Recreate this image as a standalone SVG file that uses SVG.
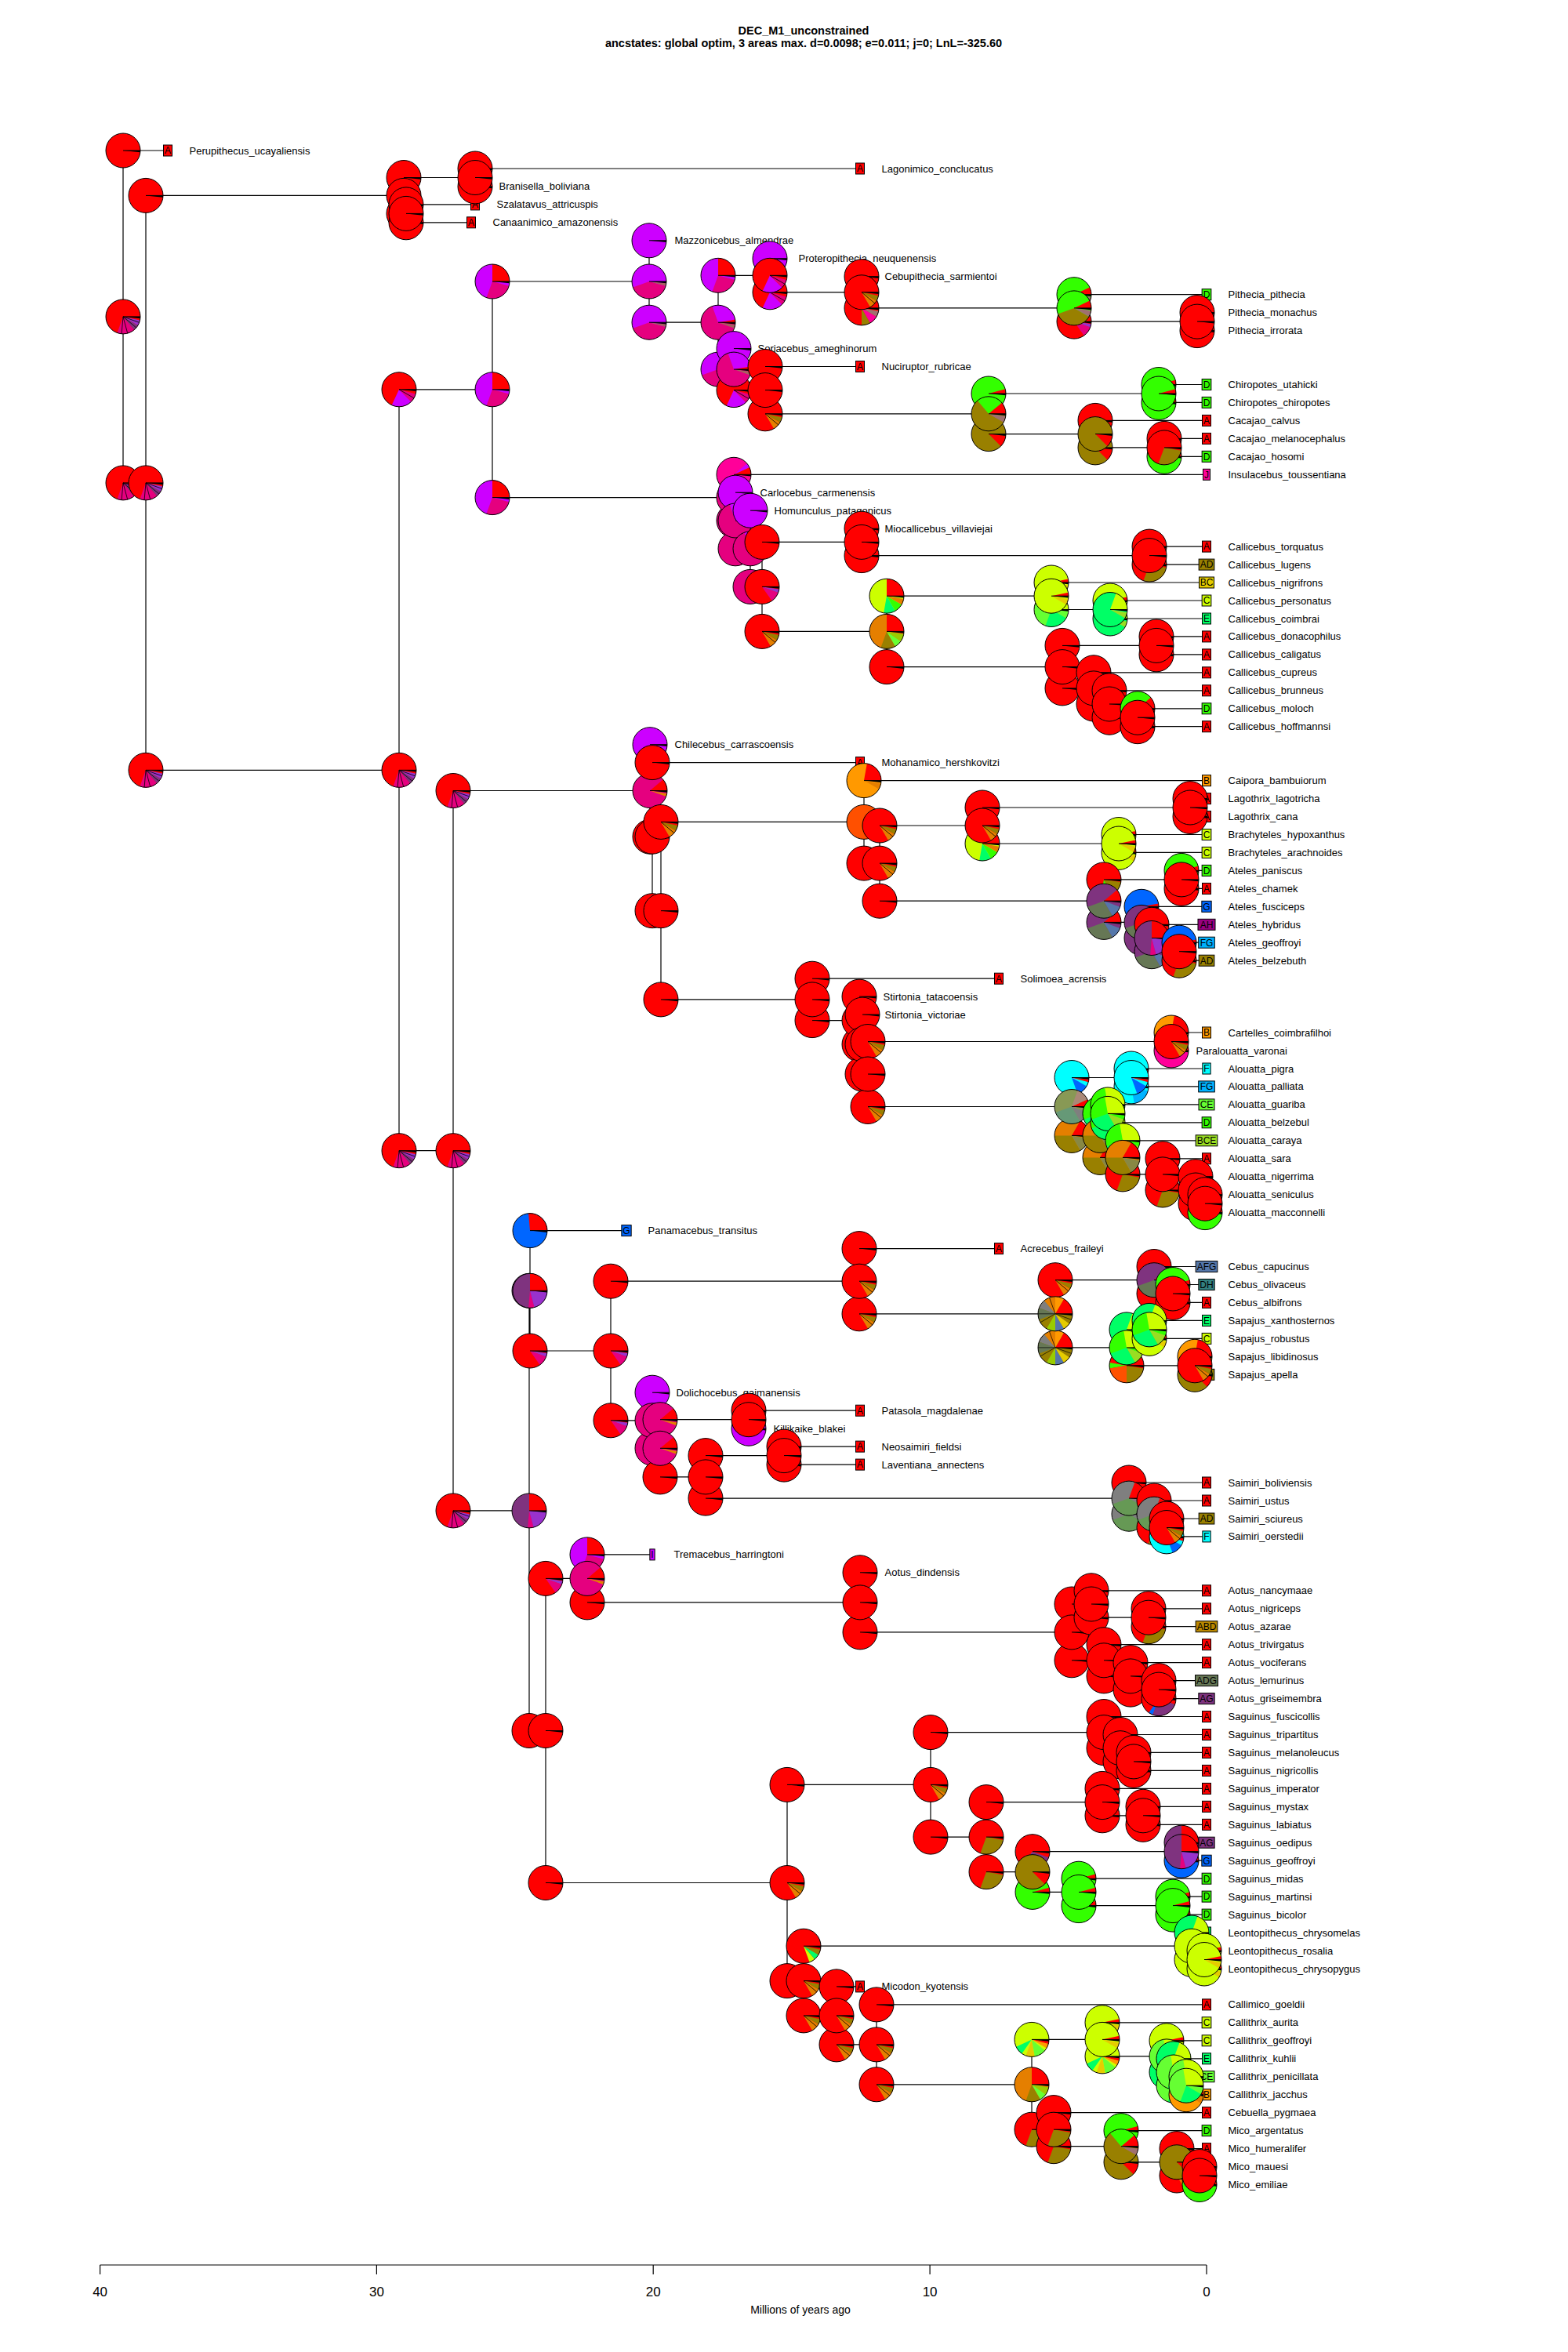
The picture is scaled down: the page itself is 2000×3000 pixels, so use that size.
<svg xmlns="http://www.w3.org/2000/svg" width="2000" height="3000" viewBox="0 0 2000 3000">
<style>
.lb{font:13px "Liberation Sans",Arial,sans-serif;fill:#000}
.bx{font:12px "Liberation Sans",Arial,sans-serif;text-anchor:middle;fill:#000}
.ti{font:bold 14.5px "Liberation Sans",Arial,sans-serif;text-anchor:middle}
.tk{font:17px "Liberation Sans",Arial,sans-serif;text-anchor:middle}
.ax{font:14px "Liberation Sans",Arial,sans-serif;text-anchor:middle}
.b{stroke:#000;stroke-width:1}
.cn{fill:none;stroke:#000;stroke-width:1.2}
.cA{fill:#f00}.cB{fill:#F90}.cC{fill:#CF0}.cD{fill:#3F0}.cE{fill:#0F6}.cF{fill:#0FF}.cG{fill:#06F}.cI{fill:#C0F}.cJ{fill:#F09}
.cAD{fill:#998000}.cBC{fill:#E5CC00}.cFG{fill:#00B2FF}.cCE{fill:#6F3}.cAH{fill:#990080}.cAG{fill:#7F337F}.cDH{fill:#33807F}
.cAFG{fill:#5577AA}.cABD{fill:#B80}.cADG{fill:#675}.cBCE{fill:#9D2}
</style>
<defs>
<g id="ov"><circle r="22" fill="none" stroke="#000"/><path d="M0 0H22" stroke="#000"/></g>
<path id="sl" d="M0 0L21.88 2.3L22 0Z"/>
<g id="r"><circle r="22" fill="#f00"/><use href="#sl"/><use href="#ov"/></g>
<g id="rm"><circle r="22" fill="#f00"/><path fill="#E5007F" d="M0 0L12.62 18.02A22 22 0 0 0 20.67 7.52Z"/><path fill="#9932CC" d="M0 0L20.67 7.52A22 22 0 0 0 21.79 3.06Z"/><use href="#sl"/><use href="#ov"/></g>
<g id="rmp"><circle r="22" fill="#f00"/><path fill="#E5007F" d="M0 0L-7.52 20.67A22 22 0 0 0 14.14 16.85Z"/><path fill="#7F337F" d="M0 0L14.14 16.85A22 22 0 0 0 19.05 11Z"/><path fill="#9932CC" d="M0 0L19.05 11A22 22 0 0 0 21.52 4.57Z"/><path d="M0 0L-1.92 21.92M0 0L5.69 21.25M0 0L16.85 14.14M0 0L20.67 7.52" stroke="#000" stroke-width=".8"/><use href="#sl"/><use href="#ov"/></g>
<g id="rv"><circle r="22" fill="#f00"/><path fill="#C0F" d="M0 0L-9.3 19.94A22 22 0 0 0 15.56 15.56Z"/><path fill="#E5007F" d="M0 0L15.56 15.56A22 22 0 0 0 21.25 5.69Z"/><path d="M0 0L19.05 11" stroke="#000" stroke-width=".8"/><use href="#sl"/><use href="#ov"/></g>
<g id="vr"><circle r="22" fill="#C0F"/><path fill="#f00" d="M0 0L22 0A22 22 0 0 0 0 -22Z"/><path fill="#E5007F" d="M0 0L-7.52 20.67A22 22 0 0 0 21.25 5.69Z"/><use href="#sl"/><use href="#ov"/></g>
<g id="vm"><circle r="22" fill="#C0F"/><path fill="#E5007F" d="M0 0L-20.67 7.52A22 22 0 0 0 21.25 5.69Z"/><path fill="#A86060" d="M0 0L21.25 5.69A22 22 0 0 0 21.88 2.3Z"/><use href="#sl"/><use href="#ov"/></g>
<g id="v"><circle r="22" fill="#C0F"/><use href="#sl"/><use href="#ov"/></g>
<g id="mv"><circle r="22" fill="#E5007F"/><path fill="#f00" d="M0 0L22 0A22 22 0 0 0 21.67 -3.82Z"/><path fill="#C0F" d="M0 0L21.67 -3.82A22 22 0 0 0 -7.52 -20.67Z"/><path fill="#A86060" d="M0 0L20.67 7.52A22 22 0 0 0 21.79 3.06Z"/><use href="#sl"/><use href="#ov"/></g>
<g id="m"><circle r="22" fill="#E5007F"/><path fill="#f00" d="M0 0L22 0A22 22 0 0 0 16.85 -14.14Z"/><path fill="#E57F00" d="M0 0L20.67 7.52A22 22 0 0 0 21.67 3.82Z"/><use href="#sl"/><use href="#ov"/></g>
<g id="pk"><circle r="22" fill="#F09"/><path fill="#f00" d="M0 0L22 0A22 22 0 0 0 19.94 -9.3Z"/><path fill="#C0F" d="M0 0L19.94 -9.3A22 22 0 0 0 16.85 -14.14Z"/><use href="#sl"/><use href="#ov"/></g>
<g id="rx"><circle r="22" fill="#f00"/><path fill="#E57F00" d="M0 0L11 19.05A22 22 0 0 0 19.05 11Z"/><path fill="#998000" d="M0 0L19.05 11A22 22 0 0 0 21.52 4.57Z"/><path d="M0 0L16.85 14.14" stroke="#000" stroke-width=".8"/><use href="#sl"/><use href="#ov"/></g>
<g id="rol"><circle r="22" fill="#f00"/><path fill="#998000" d="M0 0L-7.52 20.67A22 22 0 0 0 21.67 3.82Z"/><use href="#sl"/><use href="#ov"/></g>
<g id="rmo"><circle r="22" fill="#f00"/><path fill="#998000" d="M0 0L0 22A22 22 0 0 0 11 19.05Z"/><path fill="#F09" d="M0 0L11 19.05A22 22 0 0 0 19.05 11Z"/><path fill="#A07070" d="M0 0L19.05 11A22 22 0 0 0 21.67 3.82Z"/><use href="#sl"/><use href="#ov"/></g>
<g id="rab"><circle r="22" fill="#f00"/><path fill="#3F0" d="M0 0L-21.67 -3.82A22 22 0 0 0 -21.67 3.82Z"/><path fill="#FF5000" d="M0 0L-21.67 3.82A22 22 0 0 0 0 22Z"/><path fill="#998000" d="M0 0L0 22A22 22 0 0 0 21.67 3.82Z"/><use href="#sl"/><use href="#ov"/></g>
<g id="rgo"><circle r="22" fill="#f00"/><path fill="#3F0" d="M0 0L-3.82 21.67A22 22 0 0 0 11 19.05Z"/><path fill="#998000" d="M0 0L11 19.05A22 22 0 0 0 21.79 3.06Z"/><use href="#sl"/><use href="#ov"/></g>
<g id="g"><circle r="22" fill="#3F0"/><path fill="#f00" d="M0 0L22 0A22 22 0 0 0 21.25 -5.69Z"/><use href="#sl"/><use href="#ov"/></g>
<g id="go"><circle r="22" fill="#3F0"/><path fill="#f00" d="M0 0L22 0A22 22 0 0 0 19.94 -9.3Z"/><path fill="#998000" d="M0 0L-20.67 7.52A22 22 0 0 0 19.05 11Z"/><path fill="#A07070" d="M0 0L19.05 11A22 22 0 0 0 21.79 3.06Z"/><use href="#sl"/><use href="#ov"/></g>
<g id="og"><circle r="22" fill="#998000"/><path fill="#f00" d="M0 0L22 0A22 22 0 0 0 16.85 -14.14Z"/><path fill="#3F0" d="M0 0L16.85 -14.14A22 22 0 0 0 -14.14 -16.85Z"/><path fill="#A07070" d="M0 0L19.05 11A22 22 0 0 0 21.79 3.06Z"/><use href="#sl"/><use href="#ov"/></g>
<g id="ol"><circle r="22" fill="#998000"/><path fill="#f00" d="M0 0L15.56 15.56A22 22 0 0 0 21.92 1.92Z"/><use href="#sl"/><use href="#ov"/></g>
<g id="y"><circle r="22" fill="#CF0"/><path fill="#f00" d="M0 0L22 0A22 22 0 0 0 21.52 -4.57Z"/><path fill="#E5CC00" d="M0 0L19.05 11A22 22 0 0 0 21.67 3.82Z"/><use href="#sl"/><use href="#ov"/></g>
<g id="yx"><circle r="22" fill="#CF0"/><path fill="#0F6" d="M0 0L-19.94 9.3A22 22 0 0 0 -12.62 18.02Z"/><path fill="#E5CC00" d="M0 0L-7.52 20.67A22 22 0 0 0 3.82 21.67Z"/><path fill="#6F3" d="M0 0L3.82 21.67A22 22 0 0 0 16.85 14.14Z"/><path fill="#F90" d="M0 0L19.05 11A22 22 0 0 0 21.25 5.69Z"/><path fill="#f00" d="M0 0L21.25 5.69A22 22 0 0 0 21.92 1.92Z"/><use href="#sl"/><use href="#ov"/></g>
<g id="yr"><circle r="22" fill="#CF0"/><path fill="#f00" d="M0 0L22 0A22 22 0 0 0 0 -22Z"/><path fill="#0F6" d="M0 0L-3.82 21.67A22 22 0 0 0 11 19.05Z"/><path fill="#3F0" d="M0 0L11 19.05A22 22 0 0 0 19.05 11Z"/><path fill="#E57F00" d="M0 0L19.05 11A22 22 0 0 0 21.67 3.82Z"/><use href="#sl"/><use href="#ov"/></g>
<g id="oc"><circle r="22" fill="#E57F00"/><path fill="#f00" d="M0 0L22 0A22 22 0 0 0 0 -22Z"/><path fill="#998000" d="M0 0L-7.52 20.67A22 22 0 0 0 11 19.05Z"/><path fill="#6F3" d="M0 0L11 19.05A22 22 0 0 0 18.02 12.62Z"/><path fill="#9C0" d="M0 0L18.02 12.62A22 22 0 0 0 21.67 3.82Z"/><use href="#sl"/><use href="#ov"/></g>
<g id="cy"><circle r="22" fill="#0FF"/><path fill="#06F" d="M0 0L7.52 20.67A22 22 0 0 0 19.05 11Z"/><path fill="#f00" d="M0 0L21.25 5.69A22 22 0 0 0 21.92 1.92Z"/><use href="#sl"/><use href="#ov"/></g>
<g id="cy2"><circle r="22" fill="#0FF"/><path fill="#00B2FF" d="M0 0L3.82 21.67A22 22 0 0 0 21.25 5.69Z"/><use href="#sl"/><use href="#ov"/></g>
<g id="bl"><circle r="22" fill="#06F"/><path fill="#f00" d="M0 0L22 0A22 22 0 0 0 21.67 -3.82Z"/><use href="#sl"/><use href="#ov"/></g>
<g id="rb"><circle r="22" fill="#06F"/><path fill="#f00" d="M0 0L22 0A22 22 0 0 0 -1.92 -21.92Z"/><use href="#sl"/><use href="#ov"/></g>
<g id="or"><circle r="22" fill="#F90"/><path fill="#f00" d="M0 0L22 0A22 22 0 0 0 3.82 -21.67Z"/><path fill="#E57F00" d="M0 0L19.05 11A22 22 0 0 0 21.67 3.82Z"/><use href="#sl"/><use href="#ov"/></g>
<g id="ab"><circle r="22" fill="#FF5000"/><path fill="#f00" d="M0 0L22 0A22 22 0 0 0 21.25 -5.69Z"/><path fill="#E57F00" d="M0 0L11 19.05A22 22 0 0 0 20.67 7.52Z"/><use href="#sl"/><use href="#ov"/></g>
<g id="pu"><circle r="22" fill="#7F337F"/><path fill="#f00" d="M0 0L22 0A22 22 0 0 0 0 -22Z"/><path fill="#E5007F" d="M0 0L-1.92 21.92A22 22 0 0 0 5.69 21.25Z"/><path fill="#9932CC" d="M0 0L5.69 21.25A22 22 0 0 0 21.92 1.92Z"/><use href="#sl"/><use href="#ov"/></g>
<g id="pg"><circle r="22" fill="#7F337F"/><path fill="#f00" d="M0 0L22 0A22 22 0 0 0 16.85 -14.14Z"/><path fill="#675" d="M0 0L-20.67 7.52A22 22 0 0 0 11 19.05Z"/><path fill="#5577AA" d="M0 0L11 19.05A22 22 0 0 0 20.67 7.52Z"/><use href="#sl"/><use href="#ov"/></g>
<g id="se"><circle r="22" fill="#0F6"/><path fill="#CF0" d="M0 0L22 0A22 22 0 0 0 7.52 -20.67Z"/><path fill="#9D2" d="M0 0L19.05 11A22 22 0 0 0 21.67 3.82Z"/><use href="#sl"/><use href="#ov"/></g>
<g id="ce"><circle r="22" fill="#6F3"/><path fill="#CF0" d="M0 0L22 0A22 22 0 0 0 -3.82 -21.67Z"/><path fill="#0F6" d="M0 0L-7.52 20.67A22 22 0 0 0 19.05 11Z"/><use href="#sl"/><use href="#ov"/></g>
<g id="mg"><circle r="22" fill="#889955"/><path fill="#f00" d="M0 0L22 0A22 22 0 0 0 19.94 -9.3Z"/><path fill="#A87" d="M0 0L19.94 -9.3A22 22 0 0 0 7.52 -20.67Z"/><path fill="#697" d="M0 0L-20.67 7.52A22 22 0 0 0 11 19.05Z"/><path fill="#7F7F7F" d="M0 0L11 19.05A22 22 0 0 0 20.67 7.52Z"/><use href="#sl"/><use href="#ov"/></g>
<g id="ao"><circle r="22" fill="#E57F00"/><path fill="#f00" d="M0 0L22 0A22 22 0 0 0 11 -19.05Z"/><path fill="#998000" d="M0 0L-22 0A22 22 0 0 0 11 19.05Z"/><path fill="#884" d="M0 0L11 19.05A22 22 0 0 0 21.67 3.82Z"/><use href="#sl"/><use href="#ov"/></g>
<g id="gy"><circle r="22" fill="#3F0"/><path fill="#CF0" d="M0 0L22 0A22 22 0 0 0 -3.82 -21.67Z"/><path fill="#0F6" d="M0 0L-20.67 7.52A22 22 0 0 0 11 19.05Z"/><path fill="#9D2" d="M0 0L11 19.05A22 22 0 0 0 20.67 7.52Z"/><use href="#sl"/><use href="#ov"/></g>
<g id="mx"><circle r="22" fill="#998000"/><path fill="#f00" d="M0 0L22 0A22 22 0 0 0 11 -19.05Z"/><path fill="#F90" d="M0 0L11 -19.05A22 22 0 0 0 0 -22Z"/><path fill="#E57F00" d="M0 0L0 -22A22 22 0 0 0 -14.14 -16.85Z"/><path fill="#7F7F7F" d="M0 0L-14.14 -16.85A22 22 0 0 0 -20.67 -7.52Z"/><path fill="#675" d="M0 0L-20.67 -7.52A22 22 0 0 0 -20.67 7.52Z"/><path fill="#9C0" d="M0 0L-11 19.05A22 22 0 0 0 0 22Z"/><path fill="#5577AA" d="M0 0L0 22A22 22 0 0 0 11 19.05Z"/><path fill="#E5CC00" d="M0 0L11 19.05A22 22 0 0 0 18.02 12.62Z"/><path d="M0 0L-22 0M0 0L-19.05 11M0 0L20.67 7.52M0 0L-7.52 -20.67" stroke="#000" stroke-width=".7"/><use href="#sl"/><use href="#ov"/></g>
<g id="gm"><circle r="22" fill="#7F7F7F"/><path fill="#f00" d="M0 0L22 0A22 22 0 0 0 7.52 -20.67Z"/><path fill="#695" d="M0 0L-20.67 7.52A22 22 0 0 0 19.05 11Z"/><use href="#sl"/><use href="#ov"/></g>
<g id="rg"><circle r="22" fill="#f00"/><path fill="#3F0" d="M0 0L16.85 -14.14A22 22 0 0 0 -20.67 7.52Z"/><path fill="#998000" d="M0 0L-20.67 7.52A22 22 0 0 0 11 19.05Z"/><use href="#sl"/><use href="#ov"/></g>
<g id="rpu"><circle r="22" fill="#f00"/><path fill="#06F" d="M0 0L-12.62 18.02A22 22 0 0 0 -7.52 20.67Z"/><path fill="#7F337F" d="M0 0L-7.52 20.67A22 22 0 0 0 20.67 7.52Z"/><use href="#sl"/><use href="#ov"/></g>
<g id="rgc"><circle r="22" fill="#f00"/><path fill="#CF0" d="M0 0L7.52 20.67A22 22 0 0 0 14.14 16.85Z"/><path fill="#0F6" d="M0 0L14.14 16.85A22 22 0 0 0 19.05 11Z"/><path fill="#998000" d="M0 0L19.05 11A22 22 0 0 0 21.52 4.57Z"/><use href="#sl"/><use href="#ov"/></g>
</defs>
<rect width="2000" height="3000" fill="#fff"/>
<g id="title">
<text class="ti" x="1025" y="43.5">DEC_M1_unconstrained</text>
<text class="ti" x="1025" y="59.5">ancstates: global optim, 3 areas max. d=0.0098; e=0.011; j=0; LnL=-325.60</text>
</g>
<g id="connectors" class="cn">
<path d="M157 192V615.9M157 192H214M157 615.9H186M186 249.4V982.3M186 249.4H515M186 982.3H509M515 226.5V272.4M515 226.5H606M515 272.4H518M606 215V237.9M606 215H1097M606 237.9H608M518 260.9V283.8M518 260.9H606M518 283.8H601M509 496.8V1467.7M509 496.8H628M509 1467.7H578M628 359V634.6M628 359H828M628 634.6H936M828 306.8V411.2M828 306.8H833M828 411.2H916M916 351.3V471.1M916 351.3H982M916 471.1H936M982 329.8V372.8M982 329.8H991M982 372.8H1099M1099 352.7V392.9M1099 352.7H1101M1099 392.9H1370M1370 375.7V410.1M1370 375.7H1539M1370 410.1H1527M1527 398.6V421.6M1527 398.6H1539M1527 421.6H1539M936 444.6V497.6M936 444.6H939M936 497.6H976M976 467.5V527.8M976 467.5H1097M976 527.8H1261M1261 502V553.6M1261 502H1478M1261 553.6H1397M1478 490.5V513.4M1478 490.5H1539M1478 513.4H1539M1397 536.4V570.9M1397 536.4H1539M1397 570.9H1485M1485 559.4V582.3M1485 559.4H1539M1485 582.3H1539M936 605.3V664M936 605.3H1539M936 664H938M938 628.2V699.8M938 628.2H942M938 699.8H957M957 651.2V748.4M957 651.2H960M957 748.4H972M972 691.4V805.4M972 691.4H1099M972 805.4H1131M1099 674.2V708.6M1099 674.2H1101M1099 708.6H1466M1466 697.1V720.1M1466 697.1H1539M1466 720.1H1539M1131 760.2V850.6M1131 760.2H1341M1131 850.6H1355M1341 743V777.5M1341 743H1539M1341 777.5H1416M1416 766V789M1416 766H1539M1416 789H1539M1355 823.4V877.9M1355 823.4H1475M1355 877.9H1395M1475 811.9V834.9M1475 811.9H1539M1475 834.9H1539M1395 857.8V898M1395 857.8H1539M1395 898H1415M1415 880.8V915.2M1415 880.8H1539M1415 915.2H1451M1451 903.8V926.7M1451 903.8H1539M1451 926.7H1539"/>
<path d="M578 1008.5V1926.9M578 1008.5H829M578 1926.9H675M829 949.7V1067.2M829 949.7H833M829 1067.2H832M832 972.6V1161.7M832 972.6H1097M832 1161.7H843M843 1048.4V1274.9M843 1048.4H1102M843 1274.9H1036M1102 995.6V1101.1M1102 995.6H1539M1102 1101.1H1122M1122 1053V1149.2M1122 1053H1253M1122 1149.2H1408M1253 1030V1076M1253 1030H1518M1253 1076H1427M1518 1018.6V1041.5M1518 1018.6H1539M1518 1041.5H1539M1427 1064.5V1087.4M1427 1064.5H1539M1427 1087.4H1539M1408 1121.9V1176.4M1408 1121.9H1507M1408 1176.4H1456M1507 1110.4V1133.4M1507 1110.4H1539M1507 1133.4H1539M1456 1156.3V1196.5M1456 1156.3H1539M1456 1196.5H1469M1469 1179.3V1213.7M1469 1179.3H1539M1469 1213.7H1504M1504 1202.2V1225.2M1504 1202.2H1539M1504 1225.2H1539M1036 1248.2V1301.6M1036 1248.2H1274M1036 1301.6H1096M1096 1271.1V1332.1M1096 1271.1H1099M1096 1332.1H1100M1100 1294.1V1370M1100 1294.1H1101M1100 1370H1107M1107 1328.5V1411.5M1107 1328.5H1494M1107 1411.5H1367M1494 1317V1340M1494 1317H1539M1494 1340H1498M1367 1374.5V1448.4M1367 1374.5H1443M1367 1448.4H1403M1443 1363V1385.9M1443 1363H1539M1443 1385.9H1539M1403 1420.4V1476.4M1403 1420.4H1413M1403 1476.4H1432M1413 1408.9V1431.8M1413 1408.9H1539M1413 1431.8H1539M1432 1454.8V1497.9M1432 1454.8H1539M1432 1497.9H1483M1483 1477.8V1518M1483 1477.8H1539M1483 1518H1525M1525 1500.7V1535.2M1525 1500.7H1539M1525 1535.2H1537M1537 1523.7V1546.6M1537 1523.7H1539M1537 1546.6H1539"/>
<path d="M675 1646.3V2207.5M675 1646.3H676M675 2207.5H696M676 1569.6V1723M676 1569.6H799M676 1723H779M779 1634.2V1811.8M779 1634.2H1096M779 1811.8H832M1096 1592.6V1675.8M1096 1592.6H1274M1096 1675.8H1346M1346 1632.7V1718.9M1346 1632.7H1472M1346 1718.9H1437M1472 1615.5V1650M1472 1615.5H1539M1472 1650H1496M1496 1638.5V1661.4M1496 1638.5H1539M1496 1661.4H1539M1437 1695.9V1741.8M1437 1695.9H1466M1437 1741.8H1524M1466 1684.4V1707.4M1466 1684.4H1539M1466 1707.4H1539M1524 1730.3V1753.3M1524 1730.3H1539M1524 1753.3H1539M832 1776.2V1847.3M832 1776.2H835M832 1847.3H842M842 1810.7V1883.9M842 1810.7H955M842 1883.9H900M955 1799.2V1822.2M955 1799.2H1097M955 1822.2H958M900 1856.6V1911.1M900 1856.6H1000M900 1911.1H1440M1000 1845.1V1868.1M1000 1845.1H1097M1000 1868.1H1097M1440 1891V1931.2M1440 1891H1539M1440 1931.2H1472M1472 1914V1948.5M1472 1914H1539M1472 1948.5H1488M1488 1937V1959.9M1488 1937H1539M1488 1959.9H1539"/>
<path d="M696 2013.4V2401.5M696 2013.4H749M696 2401.5H1004M749 1982.9V2043.9M749 1982.9H832M749 2043.9H1097M1097 2005.8V2081.9M1097 2005.8H1101M1097 2081.9H1367M1367 2046V2117.8M1367 2046H1392M1367 2117.8H1408M1392 2028.8V2063.2M1392 2028.8H1539M1392 2063.2H1465M1465 2051.8V2074.7M1465 2051.8H1539M1465 2074.7H1539M1408 2097.7V2137.9M1408 2097.7H1539M1408 2137.9H1442M1442 2120.6V2155.1M1442 2120.6H1539M1442 2155.1H1478M1478 2143.6V2166.6M1478 2143.6H1539M1478 2166.6H1539M1004 2276.4V2526.6M1004 2276.4H1187M1004 2526.6H1025M1187 2209.6V2343.1M1187 2209.6H1408M1187 2343.1H1258M1408 2189.5V2229.7M1408 2189.5H1539M1408 2229.7H1429M1429 2212.5V2246.9M1429 2212.5H1539M1429 2246.9H1446M1446 2235.4V2258.4M1446 2235.4H1539M1446 2258.4H1539M1258 2298.6V2387.6M1258 2298.6H1406M1258 2387.6H1317M1406 2281.4V2315.8M1406 2281.4H1539M1406 2315.8H1458M1458 2304.3V2327.3M1458 2304.3H1539M1458 2327.3H1539M1317 2361.7V2413.4M1317 2361.7H1507M1317 2413.4H1376M1507 2350.2V2373.2M1507 2350.2H1539M1507 2373.2H1539M1376 2396.2V2430.6M1376 2396.2H1539M1376 2430.6H1496M1496 2419.1V2442.1M1496 2419.1H1539M1496 2442.1H1539M1025 2482.2V2570.9M1025 2482.2H1520M1025 2570.9H1067M1520 2465V2499.5M1520 2465H1539M1520 2499.5H1536M1536 2488V2511M1536 2488H1539M1536 2511H1539M1067 2533.9V2607.9M1067 2533.9H1097M1067 2607.9H1118M1118 2556.9V2658.8M1118 2556.9H1539M1118 2658.8H1316M1316 2601.4V2716.2M1316 2601.4H1406M1316 2716.2H1344M1406 2579.8V2622.9M1406 2579.8H1539M1406 2622.9H1488M1488 2602.8V2643M1488 2602.8H1539M1488 2643H1497M1497 2625.8V2660.2M1497 2625.8H1539M1497 2660.2H1513M1513 2648.7V2671.7M1513 2648.7H1539M1513 2671.7H1539M1344 2694.6V2737.7M1344 2694.6H1539M1344 2737.7H1430M1430 2717.6V2757.8M1430 2717.6H1539M1430 2757.8H1501M1501 2740.6V2775M1501 2740.6H1539M1501 2775H1530M1530 2763.5V2786.5M1530 2763.5H1539M1530 2786.5H1539"/>
</g>
<g id="tips">
<g id="t1" transform="translate(214,192)"><rect class="b cA" x="-5.5" y="-7" width="11" height="14"/><text class="bx" y="4.3">A</text><text class="lb" x="27.5" y="4.5">Perupithecus_ucayaliensis</text></g>
<g id="t2" transform="translate(1097,215)"><rect class="b cA" x="-5.5" y="-7" width="11" height="14"/><text class="bx" y="4.3">A</text><text class="lb" x="27.5" y="4.5">Lagonimico_conclucatus</text></g>
<g id="t3" transform="translate(609,237.9)"><rect class="b cA" x="-5.5" y="-7" width="11" height="14"/><text class="bx" y="4.3">A</text><text class="lb" x="27.5" y="4.5">Branisella_boliviana</text></g>
<g id="t4" transform="translate(606,260.9)"><rect class="b cA" x="-5.5" y="-7" width="11" height="14"/><text class="bx" y="4.3">A</text><text class="lb" x="27.5" y="4.5">Szalatavus_attricuspis</text></g>
<g id="t5" transform="translate(601,283.8)"><rect class="b cA" x="-5.5" y="-7" width="11" height="14"/><text class="bx" y="4.3">A</text><text class="lb" x="27.5" y="4.5">Canaanimico_amazonensis</text></g>
<g id="t6" transform="translate(833,306.8)"><rect class="b cI" x="-3.15" y="-7" width="6.3" height="14"/><text class="bx" y="4.3">I</text><text class="lb" x="27.5" y="4.5">Mazzonicebus_almendrae</text></g>
<g id="t7" transform="translate(991,329.8)"><rect class="b cI" x="-3.15" y="-7" width="6.3" height="14"/><text class="bx" y="4.3">I</text><text class="lb" x="27.5" y="4.5">Proteropithecia_neuquenensis</text></g>
<g id="t8" transform="translate(1101,352.7)"><rect class="b cA" x="-5.5" y="-7" width="11" height="14"/><text class="bx" y="4.3">A</text><text class="lb" x="27.5" y="4.5">Cebupithecia_sarmientoi</text></g>
<g id="t9" transform="translate(1539,375.7)"><rect class="b cD" x="-5.85" y="-7" width="11.7" height="14"/><text class="bx" y="4.3">D</text><text class="lb" x="27.5" y="4.5">Pithecia_pithecia</text></g>
<g id="t10" transform="translate(1539,398.6)"><rect class="b cA" x="-5.5" y="-7" width="11" height="14"/><text class="bx" y="4.3">A</text><text class="lb" x="27.5" y="4.5">Pithecia_monachus</text></g>
<g id="t11" transform="translate(1539,421.6)"><rect class="b cA" x="-5.5" y="-7" width="11" height="14"/><text class="bx" y="4.3">A</text><text class="lb" x="27.5" y="4.5">Pithecia_irrorata</text></g>
<g id="t12" transform="translate(939,444.6)"><rect class="b cI" x="-3.15" y="-7" width="6.3" height="14"/><text class="bx" y="4.3">I</text><text class="lb" x="27.5" y="4.5">Soriacebus_ameghinorum</text></g>
<g id="t13" transform="translate(1097,467.5)"><rect class="b cA" x="-5.5" y="-7" width="11" height="14"/><text class="bx" y="4.3">A</text><text class="lb" x="27.5" y="4.5">Nuciruptor_rubricae</text></g>
<g id="t14" transform="translate(1539,490.5)"><rect class="b cD" x="-5.85" y="-7" width="11.7" height="14"/><text class="bx" y="4.3">D</text><text class="lb" x="27.5" y="4.5">Chiropotes_utahicki</text></g>
<g id="t15" transform="translate(1539,513.4)"><rect class="b cD" x="-5.85" y="-7" width="11.7" height="14"/><text class="bx" y="4.3">D</text><text class="lb" x="27.5" y="4.5">Chiropotes_chiropotes</text></g>
<g id="t16" transform="translate(1539,536.4)"><rect class="b cA" x="-5.5" y="-7" width="11" height="14"/><text class="bx" y="4.3">A</text><text class="lb" x="27.5" y="4.5">Cacajao_calvus</text></g>
<g id="t17" transform="translate(1539,559.4)"><rect class="b cA" x="-5.5" y="-7" width="11" height="14"/><text class="bx" y="4.3">A</text><text class="lb" x="27.5" y="4.5">Cacajao_melanocephalus</text></g>
<g id="t18" transform="translate(1539,582.3)"><rect class="b cD" x="-5.85" y="-7" width="11.7" height="14"/><text class="bx" y="4.3">D</text><text class="lb" x="27.5" y="4.5">Cacajao_hosomi</text></g>
<g id="t19" transform="translate(1539,605.3)"><rect class="b cJ" x="-4.5" y="-7" width="9" height="14"/><text class="bx" y="4.3">J</text><text class="lb" x="27.5" y="4.5">Insulacebus_toussentiana</text></g>
<g id="t20" transform="translate(942,628.2)"><rect class="b cI" x="-3.15" y="-7" width="6.3" height="14"/><text class="bx" y="4.3">I</text><text class="lb" x="27.5" y="4.5">Carlocebus_carmenensis</text></g>
<g id="t21" transform="translate(960,651.2)"><rect class="b cI" x="-3.15" y="-7" width="6.3" height="14"/><text class="bx" y="4.3">I</text><text class="lb" x="27.5" y="4.5">Homunculus_patagonicus</text></g>
<g id="t22" transform="translate(1101,674.2)"><rect class="b cA" x="-5.5" y="-7" width="11" height="14"/><text class="bx" y="4.3">A</text><text class="lb" x="27.5" y="4.5">Miocallicebus_villaviejai</text></g>
<g id="t23" transform="translate(1539,697.1)"><rect class="b cA" x="-5.5" y="-7" width="11" height="14"/><text class="bx" y="4.3">A</text><text class="lb" x="27.5" y="4.5">Callicebus_torquatus</text></g>
<g id="t24" transform="translate(1539,720.1)"><rect class="b cAD" x="-9.85" y="-7" width="19.7" height="14"/><text class="bx" y="4.3">AD</text><text class="lb" x="27.5" y="4.5">Callicebus_lugens</text></g>
<g id="t25" transform="translate(1539,743)"><rect class="b cBC" x="-9.5" y="-7" width="19" height="14"/><text class="bx" y="4.3">BC</text><text class="lb" x="27.5" y="4.5">Callicebus_nigrifrons</text></g>
<g id="t26" transform="translate(1539,766)"><rect class="b cC" x="-5.85" y="-7" width="11.7" height="14"/><text class="bx" y="4.3">C</text><text class="lb" x="27.5" y="4.5">Callicebus_personatus</text></g>
<g id="t27" transform="translate(1539,789)"><rect class="b cE" x="-5.5" y="-7" width="11" height="14"/><text class="bx" y="4.3">E</text><text class="lb" x="27.5" y="4.5">Callicebus_coimbrai</text></g>
<g id="t28" transform="translate(1539,811.9)"><rect class="b cA" x="-5.5" y="-7" width="11" height="14"/><text class="bx" y="4.3">A</text><text class="lb" x="27.5" y="4.5">Callicebus_donacophilus</text></g>
<g id="t29" transform="translate(1539,834.9)"><rect class="b cA" x="-5.5" y="-7" width="11" height="14"/><text class="bx" y="4.3">A</text><text class="lb" x="27.5" y="4.5">Callicebus_caligatus</text></g>
<g id="t30" transform="translate(1539,857.8)"><rect class="b cA" x="-5.5" y="-7" width="11" height="14"/><text class="bx" y="4.3">A</text><text class="lb" x="27.5" y="4.5">Callicebus_cupreus</text></g>
<g id="t31" transform="translate(1539,880.8)"><rect class="b cA" x="-5.5" y="-7" width="11" height="14"/><text class="bx" y="4.3">A</text><text class="lb" x="27.5" y="4.5">Callicebus_brunneus</text></g>
<g id="t32" transform="translate(1539,903.8)"><rect class="b cD" x="-5.85" y="-7" width="11.7" height="14"/><text class="bx" y="4.3">D</text><text class="lb" x="27.5" y="4.5">Callicebus_moloch</text></g>
<g id="t33" transform="translate(1539,926.7)"><rect class="b cA" x="-5.5" y="-7" width="11" height="14"/><text class="bx" y="4.3">A</text><text class="lb" x="27.5" y="4.5">Callicebus_hoffmannsi</text></g>
<g id="t34" transform="translate(833,949.7)"><rect class="b cI" x="-3.15" y="-7" width="6.3" height="14"/><text class="bx" y="4.3">I</text><text class="lb" x="27.5" y="4.5">Chilecebus_carrascoensis</text></g>
<g id="t35" transform="translate(1097,972.6)"><rect class="b cA" x="-5.5" y="-7" width="11" height="14"/><text class="bx" y="4.3">A</text><text class="lb" x="27.5" y="4.5">Mohanamico_hershkovitzi</text></g>
<g id="t36" transform="translate(1539,995.6)"><rect class="b cB" x="-5.5" y="-7" width="11" height="14"/><text class="bx" y="4.3">B</text><text class="lb" x="27.5" y="4.5">Caipora_bambuiorum</text></g>
<g id="t37" transform="translate(1539,1018.6)"><rect class="b cA" x="-5.5" y="-7" width="11" height="14"/><text class="bx" y="4.3">A</text><text class="lb" x="27.5" y="4.5">Lagothrix_lagotricha</text></g>
<g id="t38" transform="translate(1539,1041.5)"><rect class="b cA" x="-5.5" y="-7" width="11" height="14"/><text class="bx" y="4.3">A</text><text class="lb" x="27.5" y="4.5">Lagothrix_cana</text></g>
<g id="t39" transform="translate(1539,1064.5)"><rect class="b cC" x="-5.85" y="-7" width="11.7" height="14"/><text class="bx" y="4.3">C</text><text class="lb" x="27.5" y="4.5">Brachyteles_hypoxanthus</text></g>
<g id="t40" transform="translate(1539,1087.4)"><rect class="b cC" x="-5.85" y="-7" width="11.7" height="14"/><text class="bx" y="4.3">C</text><text class="lb" x="27.5" y="4.5">Brachyteles_arachnoides</text></g>
<g id="t41" transform="translate(1539,1110.4)"><rect class="b cD" x="-5.85" y="-7" width="11.7" height="14"/><text class="bx" y="4.3">D</text><text class="lb" x="27.5" y="4.5">Ateles_paniscus</text></g>
<g id="t42" transform="translate(1539,1133.4)"><rect class="b cA" x="-5.5" y="-7" width="11" height="14"/><text class="bx" y="4.3">A</text><text class="lb" x="27.5" y="4.5">Ateles_chamek</text></g>
<g id="t43" transform="translate(1539,1156.3)"><rect class="b cG" x="-6.15" y="-7" width="12.3" height="14"/><text class="bx" y="4.3">G</text><text class="lb" x="27.5" y="4.5">Ateles_fusciceps</text></g>
<g id="t44" transform="translate(1539,1179.3)"><rect class="b cAH" x="-11" y="-7" width="22" height="14"/><text class="bx" y="4.3">AH</text><text class="lb" x="27.5" y="4.5">Ateles_hybridus</text></g>
<g id="t45" transform="translate(1539,1202.2)"><rect class="b cFG" x="-10.3" y="-7" width="20.6" height="14"/><text class="bx" y="4.3">FG</text><text class="lb" x="27.5" y="4.5">Ateles_geoffroyi</text></g>
<g id="t46" transform="translate(1539,1225.2)"><rect class="b cAD" x="-9.85" y="-7" width="19.7" height="14"/><text class="bx" y="4.3">AD</text><text class="lb" x="27.5" y="4.5">Ateles_belzebuth</text></g>
<g id="t47" transform="translate(1274,1248.2)"><rect class="b cA" x="-5.5" y="-7" width="11" height="14"/><text class="bx" y="4.3">A</text><text class="lb" x="27.5" y="4.5">Solimoea_acrensis</text></g>
<g id="t48" transform="translate(1099,1271.1)"><rect class="b cA" x="-5.5" y="-7" width="11" height="14"/><text class="bx" y="4.3">A</text><text class="lb" x="27.5" y="4.5">Stirtonia_tatacoensis</text></g>
<g id="t49" transform="translate(1101,1294.1)"><rect class="b cA" x="-5.5" y="-7" width="11" height="14"/><text class="bx" y="4.3">A</text><text class="lb" x="27.5" y="4.5">Stirtonia_victoriae</text></g>
<g id="t50" transform="translate(1539,1317)"><rect class="b cB" x="-5.5" y="-7" width="11" height="14"/><text class="bx" y="4.3">B</text><text class="lb" x="27.5" y="4.5">Cartelles_coimbrafilhoi</text></g>
<g id="t51" transform="translate(1498,1340)"><rect class="b cJ" x="-4.5" y="-7" width="9" height="14"/><text class="bx" y="4.3">J</text><text class="lb" x="27.5" y="4.5">Paralouatta_varonai</text></g>
<g id="t52" transform="translate(1539,1363)"><rect class="b cF" x="-5.15" y="-7" width="10.3" height="14"/><text class="bx" y="4.3">F</text><text class="lb" x="27.5" y="4.5">Alouatta_pigra</text></g>
<g id="t53" transform="translate(1539,1385.9)"><rect class="b cFG" x="-10.3" y="-7" width="20.6" height="14"/><text class="bx" y="4.3">FG</text><text class="lb" x="27.5" y="4.5">Alouatta_palliata</text></g>
<g id="t54" transform="translate(1539,1408.9)"><rect class="b cCE" x="-10" y="-7" width="20" height="14"/><text class="bx" y="4.3">CE</text><text class="lb" x="27.5" y="4.5">Alouatta_guariba</text></g>
<g id="t55" transform="translate(1539,1431.8)"><rect class="b cD" x="-5.85" y="-7" width="11.7" height="14"/><text class="bx" y="4.3">D</text><text class="lb" x="27.5" y="4.5">Alouatta_belzebul</text></g>
<g id="t56" transform="translate(1539,1454.8)"><rect class="b cBCE" x="-13.85" y="-7" width="27.7" height="14"/><text class="bx" y="4.3">BCE</text><text class="lb" x="27.5" y="4.5">Alouatta_caraya</text></g>
<g id="t57" transform="translate(1539,1477.8)"><rect class="b cA" x="-5.5" y="-7" width="11" height="14"/><text class="bx" y="4.3">A</text><text class="lb" x="27.5" y="4.5">Alouatta_sara</text></g>
<g id="t58" transform="translate(1539,1500.7)"><rect class="b cA" x="-5.5" y="-7" width="11" height="14"/><text class="bx" y="4.3">A</text><text class="lb" x="27.5" y="4.5">Alouatta_nigerrima</text></g>
<g id="t59" transform="translate(1539,1523.7)"><rect class="b cA" x="-5.5" y="-7" width="11" height="14"/><text class="bx" y="4.3">A</text><text class="lb" x="27.5" y="4.5">Alouatta_seniculus</text></g>
<g id="t60" transform="translate(1539,1546.6)"><rect class="b cD" x="-5.85" y="-7" width="11.7" height="14"/><text class="bx" y="4.3">D</text><text class="lb" x="27.5" y="4.5">Alouatta_macconnelli</text></g>
<g id="t61" transform="translate(799,1569.6)"><rect class="b cG" x="-6.15" y="-7" width="12.3" height="14"/><text class="bx" y="4.3">G</text><text class="lb" x="27.5" y="4.5">Panamacebus_transitus</text></g>
<g id="t62" transform="translate(1274,1592.6)"><rect class="b cA" x="-5.5" y="-7" width="11" height="14"/><text class="bx" y="4.3">A</text><text class="lb" x="27.5" y="4.5">Acrecebus_fraileyi</text></g>
<g id="t63" transform="translate(1539,1615.5)"><rect class="b cAFG" x="-13.85" y="-7" width="27.7" height="14"/><text class="bx" y="4.3">AFG</text><text class="lb" x="27.5" y="4.5">Cebus_capucinus</text></g>
<g id="t64" transform="translate(1539,1638.5)"><rect class="b cDH" x="-10.15" y="-7" width="20.3" height="14"/><text class="bx" y="4.3">DH</text><text class="lb" x="27.5" y="4.5">Cebus_olivaceus</text></g>
<g id="t65" transform="translate(1539,1661.4)"><rect class="b cA" x="-5.5" y="-7" width="11" height="14"/><text class="bx" y="4.3">A</text><text class="lb" x="27.5" y="4.5">Cebus_albifrons</text></g>
<g id="t66" transform="translate(1539,1684.4)"><rect class="b cE" x="-5.5" y="-7" width="11" height="14"/><text class="bx" y="4.3">E</text><text class="lb" x="27.5" y="4.5">Sapajus_xanthosternos</text></g>
<g id="t67" transform="translate(1539,1707.4)"><rect class="b cC" x="-5.85" y="-7" width="11.7" height="14"/><text class="bx" y="4.3">C</text><text class="lb" x="27.5" y="4.5">Sapajus_robustus</text></g>
<g id="t68" transform="translate(1539,1730.3)"><rect class="b cB" x="-5.5" y="-7" width="11" height="14"/><text class="bx" y="4.3">B</text><text class="lb" x="27.5" y="4.5">Sapajus_libidinosus</text></g>
<g id="t69" transform="translate(1539,1753.3)"><rect class="b cAD" x="-9.85" y="-7" width="19.7" height="14"/><text class="bx" y="4.3">AD</text><text class="lb" x="27.5" y="4.5">Sapajus_apella</text></g>
<g id="t70" transform="translate(835,1776.2)"><rect class="b cI" x="-3.15" y="-7" width="6.3" height="14"/><text class="bx" y="4.3">I</text><text class="lb" x="27.5" y="4.5">Dolichocebus_gaimanensis</text></g>
<g id="t71" transform="translate(1097,1799.2)"><rect class="b cA" x="-5.5" y="-7" width="11" height="14"/><text class="bx" y="4.3">A</text><text class="lb" x="27.5" y="4.5">Patasola_magdalenae</text></g>
<g id="t72" transform="translate(959,1822.2)"><rect class="b cI" x="-3.15" y="-7" width="6.3" height="14"/><text class="bx" y="4.3">I</text><text class="lb" x="27.5" y="4.5">Killikaike_blakei</text></g>
<g id="t73" transform="translate(1097,1845.1)"><rect class="b cA" x="-5.5" y="-7" width="11" height="14"/><text class="bx" y="4.3">A</text><text class="lb" x="27.5" y="4.5">Neosaimiri_fieldsi</text></g>
<g id="t74" transform="translate(1097,1868.1)"><rect class="b cA" x="-5.5" y="-7" width="11" height="14"/><text class="bx" y="4.3">A</text><text class="lb" x="27.5" y="4.5">Laventiana_annectens</text></g>
<g id="t75" transform="translate(1539,1891)"><rect class="b cA" x="-5.5" y="-7" width="11" height="14"/><text class="bx" y="4.3">A</text><text class="lb" x="27.5" y="4.5">Saimiri_boliviensis</text></g>
<g id="t76" transform="translate(1539,1914)"><rect class="b cA" x="-5.5" y="-7" width="11" height="14"/><text class="bx" y="4.3">A</text><text class="lb" x="27.5" y="4.5">Saimiri_ustus</text></g>
<g id="t77" transform="translate(1539,1937)"><rect class="b cAD" x="-9.85" y="-7" width="19.7" height="14"/><text class="bx" y="4.3">AD</text><text class="lb" x="27.5" y="4.5">Saimiri_sciureus</text></g>
<g id="t78" transform="translate(1539,1959.9)"><rect class="b cF" x="-5.15" y="-7" width="10.3" height="14"/><text class="bx" y="4.3">F</text><text class="lb" x="27.5" y="4.5">Saimiri_oerstedii</text></g>
<g id="t79" transform="translate(832,1982.9)"><rect class="b cI" x="-3.15" y="-7" width="6.3" height="14"/><text class="bx" y="4.3">I</text><text class="lb" x="27.5" y="4.5">Tremacebus_harringtoni</text></g>
<g id="t80" transform="translate(1101,2005.8)"><rect class="b cA" x="-5.5" y="-7" width="11" height="14"/><text class="bx" y="4.3">A</text><text class="lb" x="27.5" y="4.5">Aotus_dindensis</text></g>
<g id="t81" transform="translate(1539,2028.8)"><rect class="b cA" x="-5.5" y="-7" width="11" height="14"/><text class="bx" y="4.3">A</text><text class="lb" x="27.5" y="4.5">Aotus_nancymaae</text></g>
<g id="t82" transform="translate(1539,2051.8)"><rect class="b cA" x="-5.5" y="-7" width="11" height="14"/><text class="bx" y="4.3">A</text><text class="lb" x="27.5" y="4.5">Aotus_nigriceps</text></g>
<g id="t83" transform="translate(1539,2074.7)"><rect class="b cABD" x="-13.85" y="-7" width="27.7" height="14"/><text class="bx" y="4.3">ABD</text><text class="lb" x="27.5" y="4.5">Aotus_azarae</text></g>
<g id="t84" transform="translate(1539,2097.7)"><rect class="b cA" x="-5.5" y="-7" width="11" height="14"/><text class="bx" y="4.3">A</text><text class="lb" x="27.5" y="4.5">Aotus_trivirgatus</text></g>
<g id="t85" transform="translate(1539,2120.6)"><rect class="b cA" x="-5.5" y="-7" width="11" height="14"/><text class="bx" y="4.3">A</text><text class="lb" x="27.5" y="4.5">Aotus_vociferans</text></g>
<g id="t86" transform="translate(1539,2143.6)"><rect class="b cADG" x="-14.5" y="-7" width="29" height="14"/><text class="bx" y="4.3">ADG</text><text class="lb" x="27.5" y="4.5">Aotus_lemurinus</text></g>
<g id="t87" transform="translate(1539,2166.6)"><rect class="b cAG" x="-10.15" y="-7" width="20.3" height="14"/><text class="bx" y="4.3">AG</text><text class="lb" x="27.5" y="4.5">Aotus_griseimembra</text></g>
<g id="t88" transform="translate(1539,2189.5)"><rect class="b cA" x="-5.5" y="-7" width="11" height="14"/><text class="bx" y="4.3">A</text><text class="lb" x="27.5" y="4.5">Saguinus_fuscicollis</text></g>
<g id="t89" transform="translate(1539,2212.5)"><rect class="b cA" x="-5.5" y="-7" width="11" height="14"/><text class="bx" y="4.3">A</text><text class="lb" x="27.5" y="4.5">Saguinus_tripartitus</text></g>
<g id="t90" transform="translate(1539,2235.4)"><rect class="b cA" x="-5.5" y="-7" width="11" height="14"/><text class="bx" y="4.3">A</text><text class="lb" x="27.5" y="4.5">Saguinus_melanoleucus</text></g>
<g id="t91" transform="translate(1539,2258.4)"><rect class="b cA" x="-5.5" y="-7" width="11" height="14"/><text class="bx" y="4.3">A</text><text class="lb" x="27.5" y="4.5">Saguinus_nigricollis</text></g>
<g id="t92" transform="translate(1539,2281.4)"><rect class="b cA" x="-5.5" y="-7" width="11" height="14"/><text class="bx" y="4.3">A</text><text class="lb" x="27.5" y="4.5">Saguinus_imperator</text></g>
<g id="t93" transform="translate(1539,2304.3)"><rect class="b cA" x="-5.5" y="-7" width="11" height="14"/><text class="bx" y="4.3">A</text><text class="lb" x="27.5" y="4.5">Saguinus_mystax</text></g>
<g id="t94" transform="translate(1539,2327.3)"><rect class="b cA" x="-5.5" y="-7" width="11" height="14"/><text class="bx" y="4.3">A</text><text class="lb" x="27.5" y="4.5">Saguinus_labiatus</text></g>
<g id="t95" transform="translate(1539,2350.2)"><rect class="b cAG" x="-10.15" y="-7" width="20.3" height="14"/><text class="bx" y="4.3">AG</text><text class="lb" x="27.5" y="4.5">Saguinus_oedipus</text></g>
<g id="t96" transform="translate(1539,2373.2)"><rect class="b cG" x="-6.15" y="-7" width="12.3" height="14"/><text class="bx" y="4.3">G</text><text class="lb" x="27.5" y="4.5">Saguinus_geoffroyi</text></g>
<g id="t97" transform="translate(1539,2396.2)"><rect class="b cD" x="-5.85" y="-7" width="11.7" height="14"/><text class="bx" y="4.3">D</text><text class="lb" x="27.5" y="4.5">Saguinus_midas</text></g>
<g id="t98" transform="translate(1539,2419.1)"><rect class="b cD" x="-5.85" y="-7" width="11.7" height="14"/><text class="bx" y="4.3">D</text><text class="lb" x="27.5" y="4.5">Saguinus_martinsi</text></g>
<g id="t99" transform="translate(1539,2442.1)"><rect class="b cD" x="-5.85" y="-7" width="11.7" height="14"/><text class="bx" y="4.3">D</text><text class="lb" x="27.5" y="4.5">Saguinus_bicolor</text></g>
<g id="t100" transform="translate(1539,2465)"><rect class="b cE" x="-5.5" y="-7" width="11" height="14"/><text class="bx" y="4.3">E</text><text class="lb" x="27.5" y="4.5">Leontopithecus_chrysomelas</text></g>
<g id="t101" transform="translate(1539,2488)"><rect class="b cC" x="-5.85" y="-7" width="11.7" height="14"/><text class="bx" y="4.3">C</text><text class="lb" x="27.5" y="4.5">Leontopithecus_rosalia</text></g>
<g id="t102" transform="translate(1539,2511)"><rect class="b cC" x="-5.85" y="-7" width="11.7" height="14"/><text class="bx" y="4.3">C</text><text class="lb" x="27.5" y="4.5">Leontopithecus_chrysopygus</text></g>
<g id="t103" transform="translate(1097,2533.9)"><rect class="b cA" x="-5.5" y="-7" width="11" height="14"/><text class="bx" y="4.3">A</text><text class="lb" x="27.5" y="4.5">Micodon_kyotensis</text></g>
<g id="t104" transform="translate(1539,2556.9)"><rect class="b cA" x="-5.5" y="-7" width="11" height="14"/><text class="bx" y="4.3">A</text><text class="lb" x="27.5" y="4.5">Callimico_goeldii</text></g>
<g id="t105" transform="translate(1539,2579.8)"><rect class="b cC" x="-5.85" y="-7" width="11.7" height="14"/><text class="bx" y="4.3">C</text><text class="lb" x="27.5" y="4.5">Callithrix_aurita</text></g>
<g id="t106" transform="translate(1539,2602.8)"><rect class="b cC" x="-5.85" y="-7" width="11.7" height="14"/><text class="bx" y="4.3">C</text><text class="lb" x="27.5" y="4.5">Callithrix_geoffroyi</text></g>
<g id="t107" transform="translate(1539,2625.8)"><rect class="b cE" x="-5.5" y="-7" width="11" height="14"/><text class="bx" y="4.3">E</text><text class="lb" x="27.5" y="4.5">Callithrix_kuhlii</text></g>
<g id="t108" transform="translate(1539,2648.7)"><rect class="b cCE" x="-10" y="-7" width="20" height="14"/><text class="bx" y="4.3">CE</text><text class="lb" x="27.5" y="4.5">Callithrix_penicillata</text></g>
<g id="t109" transform="translate(1539,2671.7)"><rect class="b cB" x="-5.5" y="-7" width="11" height="14"/><text class="bx" y="4.3">B</text><text class="lb" x="27.5" y="4.5">Callithrix_jacchus</text></g>
<g id="t110" transform="translate(1539,2694.6)"><rect class="b cA" x="-5.5" y="-7" width="11" height="14"/><text class="bx" y="4.3">A</text><text class="lb" x="27.5" y="4.5">Cebuella_pygmaea</text></g>
<g id="t111" transform="translate(1539,2717.6)"><rect class="b cD" x="-5.85" y="-7" width="11.7" height="14"/><text class="bx" y="4.3">D</text><text class="lb" x="27.5" y="4.5">Mico_argentatus</text></g>
<g id="t112" transform="translate(1539,2740.6)"><rect class="b cA" x="-5.5" y="-7" width="11" height="14"/><text class="bx" y="4.3">A</text><text class="lb" x="27.5" y="4.5">Mico_humeralifer</text></g>
<g id="t113" transform="translate(1539,2763.5)"><rect class="b cA" x="-5.5" y="-7" width="11" height="14"/><text class="bx" y="4.3">A</text><text class="lb" x="27.5" y="4.5">Mico_mauesi</text></g>
<g id="t114" transform="translate(1539,2786.5)"><rect class="b cD" x="-5.85" y="-7" width="11.7" height="14"/><text class="bx" y="4.3">D</text><text class="lb" x="27.5" y="4.5">Mico_emiliae</text></g>
</g>
<g id="nodes">
<g id="n_R0"><use href="#r" x="157" y="192"/><use href="#rmp" x="157" y="615.9"/><use href="#rmp" x="157" y="403.9"/></g>
<g id="n_N1"><use href="#r" x="186" y="249.4"/><use href="#rmp" x="186" y="982.3"/><use href="#rmp" x="186" y="615.9"/></g>
<g id="n_N2"><use href="#r" x="515" y="226.5"/><use href="#r" x="515" y="272.4"/><use href="#r" x="515" y="249.4"/></g>
<g id="n_D"><use href="#r" x="606" y="215"/><use href="#r" x="606" y="237.9"/><use href="#r" x="606" y="226.5"/></g>
<g id="n_G"><use href="#r" x="518" y="260.9"/><use href="#r" x="518" y="283.8"/><use href="#r" x="518" y="272.4"/></g>
<g id="n_N3"><use href="#rv" x="509" y="496.8"/><use href="#rmp" x="509" y="1467.7"/><use href="#rmp" x="509" y="982.3"/></g>
<g id="n_N4"><use href="#vr" x="628" y="359"/><use href="#vr" x="628" y="634.6"/><use href="#vr" x="628" y="496.8"/></g>
<g id="n_N6"><use href="#v" x="828" y="306.8"/><use href="#vm" x="828" y="411.2"/><use href="#vm" x="828" y="359"/></g>
<g id="n_N8"><use href="#vr" x="916" y="351.3"/><use href="#vm" x="916" y="471.1"/><use href="#mv" x="916" y="411.2"/></g>
<g id="n_N9"><use href="#v" x="982" y="329.8"/><use href="#rv" x="982" y="372.8"/><use href="#rv" x="982" y="351.3"/></g>
<g id="n_N11"><use href="#r" x="1099" y="352.7"/><use href="#rmo" x="1099" y="392.9"/><use href="#rx" x="1099" y="372.8"/></g>
<g id="n_N12"><use href="#go" x="1370" y="375.7"/><use href="#rm" x="1370" y="410.1"/><use href="#go" x="1370" y="392.9"/></g>
<g id="n_N13"><use href="#r" x="1527" y="398.6"/><use href="#r" x="1527" y="421.6"/><use href="#r" x="1527" y="410.1"/></g>
<g id="n_N10"><use href="#v" x="936" y="444.6"/><use href="#rv" x="936" y="497.6"/><use href="#mv" x="936" y="471.1"/></g>
<g id="n_N14"><use href="#r" x="976" y="467.5"/><use href="#rx" x="976" y="527.8"/><use href="#r" x="976" y="497.6"/></g>
<g id="n_N15"><use href="#g" x="1261" y="502"/><use href="#ol" x="1261" y="553.6"/><use href="#og" x="1261" y="527.8"/></g>
<g id="n_Chir"><use href="#g" x="1478" y="490.5"/><use href="#g" x="1478" y="513.4"/><use href="#g" x="1478" y="502"/></g>
<g id="n_Cac"><use href="#r" x="1397" y="536.4"/><use href="#ol" x="1397" y="570.9"/><use href="#ol" x="1397" y="553.6"/></g>
<g id="n_CacMH"><use href="#r" x="1485" y="559.4"/><use href="#g" x="1485" y="582.3"/><use href="#rol" x="1485" y="570.9"/></g>
<g id="n_N7"><use href="#pk" x="936" y="605.3"/><use href="#mv" x="936" y="664"/><use href="#mv" x="936" y="634.6"/></g>
<g id="n_N16"><use href="#v" x="938" y="628.2"/><use href="#m" x="938" y="699.8"/><use href="#mv" x="938" y="664"/></g>
<g id="n_N17"><use href="#v" x="957" y="651.2"/><use href="#m" x="957" y="748.4"/><use href="#mv" x="957" y="699.8"/></g>
<g id="n_N18"><use href="#r" x="972" y="691.4"/><use href="#rx" x="972" y="805.4"/><use href="#rm" x="972" y="748.4"/></g>
<g id="n_N19"><use href="#r" x="1099" y="674.2"/><use href="#r" x="1099" y="708.6"/><use href="#r" x="1099" y="691.4"/></g>
<g id="n_N21"><use href="#r" x="1466" y="697.1"/><use href="#rol" x="1466" y="720.1"/><use href="#r" x="1466" y="708.6"/></g>
<g id="n_N20"><use href="#yr" x="1131" y="760.2"/><use href="#r" x="1131" y="850.6"/><use href="#oc" x="1131" y="805.4"/></g>
<g id="n_N22"><use href="#y" x="1341" y="743"/><use href="#ce" x="1341" y="777.5"/><use href="#y" x="1341" y="760.2"/></g>
<g id="n_N24"><use href="#y" x="1416" y="766"/><use href="#se" x="1416" y="789"/><use href="#se" x="1416" y="777.5"/></g>
<g id="n_N23"><use href="#r" x="1355" y="823.4"/><use href="#r" x="1355" y="877.9"/><use href="#r" x="1355" y="850.6"/></g>
<g id="n_N25"><use href="#r" x="1475" y="811.9"/><use href="#r" x="1475" y="834.9"/><use href="#r" x="1475" y="823.4"/></g>
<g id="n_N26"><use href="#r" x="1395" y="857.8"/><use href="#r" x="1395" y="898"/><use href="#r" x="1395" y="877.9"/></g>
<g id="n_N27"><use href="#r" x="1415" y="880.8"/><use href="#r" x="1415" y="915.2"/><use href="#r" x="1415" y="898"/></g>
<g id="n_N28"><use href="#rg" x="1451" y="903.8"/><use href="#r" x="1451" y="926.7"/><use href="#r" x="1451" y="915.2"/></g>
<g id="n_N29"><use href="#rmp" x="578" y="1008.5"/><use href="#rmp" x="578" y="1926.9"/><use href="#rmp" x="578" y="1467.7"/></g>
<g id="n_N30"><use href="#v" x="829" y="949.7"/><use href="#r" x="829" y="1067.2"/><use href="#m" x="829" y="1008.5"/></g>
<g id="n_N31"><use href="#r" x="832" y="972.6"/><use href="#r" x="832" y="1161.7"/><use href="#r" x="832" y="1067.2"/></g>
<g id="n_N32"><use href="#rx" x="843" y="1048.4"/><use href="#r" x="843" y="1274.9"/><use href="#r" x="843" y="1161.7"/></g>
<g id="n_N33"><use href="#or" x="1102" y="995.6"/><use href="#rx" x="1102" y="1101.1"/><use href="#ab" x="1102" y="1048.4"/></g>
<g id="n_N35"><use href="#rx" x="1122" y="1053"/><use href="#r" x="1122" y="1149.2"/><use href="#rx" x="1122" y="1101.1"/></g>
<g id="n_LB"><use href="#r" x="1253" y="1030"/><use href="#yr" x="1253" y="1076"/><use href="#rx" x="1253" y="1053"/></g>
<g id="n_Lag"><use href="#r" x="1518" y="1018.6"/><use href="#r" x="1518" y="1041.5"/><use href="#r" x="1518" y="1030"/></g>
<g id="n_Bra"><use href="#y" x="1427" y="1064.5"/><use href="#y" x="1427" y="1087.4"/><use href="#y" x="1427" y="1076"/></g>
<g id="n_A0"><use href="#rgo" x="1408" y="1121.9"/><use href="#pg" x="1408" y="1176.4"/><use href="#pg" x="1408" y="1149.2"/></g>
<g id="n_PC"><use href="#g" x="1507" y="1110.4"/><use href="#r" x="1507" y="1133.4"/><use href="#r" x="1507" y="1121.9"/></g>
<g id="n_A1"><use href="#bl" x="1456" y="1156.3"/><use href="#pu" x="1456" y="1196.5"/><use href="#pg" x="1456" y="1176.4"/></g>
<g id="n_A2"><use href="#r" x="1469" y="1179.3"/><use href="#pg" x="1469" y="1213.7"/><use href="#pu" x="1469" y="1196.5"/></g>
<g id="n_GB"><use href="#bl" x="1504" y="1202.2"/><use href="#rol" x="1504" y="1225.2"/><use href="#r" x="1504" y="1213.7"/></g>
<g id="n_N34"><use href="#r" x="1036" y="1248.2"/><use href="#r" x="1036" y="1301.6"/><use href="#r" x="1036" y="1274.9"/></g>
<g id="n_N36"><use href="#r" x="1096" y="1271.1"/><use href="#r" x="1096" y="1332.1"/><use href="#r" x="1096" y="1301.6"/></g>
<g id="n_N37"><use href="#r" x="1100" y="1294.1"/><use href="#rx" x="1100" y="1370"/><use href="#r" x="1100" y="1332.1"/></g>
<g id="n_N38"><use href="#rx" x="1107" y="1328.5"/><use href="#rx" x="1107" y="1411.5"/><use href="#r" x="1107" y="1370"/></g>
<g id="n_CP"><use href="#or" x="1494" y="1317"/><use href="#pk" x="1494" y="1340"/><use href="#rx" x="1494" y="1328.5"/></g>
<g id="n_X0"><use href="#cy" x="1367" y="1374.5"/><use href="#ao" x="1367" y="1448.4"/><use href="#mg" x="1367" y="1411.5"/></g>
<g id="n_PP"><use href="#cy" x="1443" y="1363"/><use href="#cy2" x="1443" y="1385.9"/><use href="#cy" x="1443" y="1374.5"/></g>
<g id="n_R1"><use href="#gy" x="1403" y="1420.4"/><use href="#ao" x="1403" y="1476.4"/><use href="#ao" x="1403" y="1448.4"/></g>
<g id="n_GBe"><use href="#gy" x="1413" y="1408.9"/><use href="#gy" x="1413" y="1431.8"/><use href="#gy" x="1413" y="1420.4"/></g>
<g id="n_R2"><use href="#gy" x="1432" y="1454.8"/><use href="#rol" x="1432" y="1497.9"/><use href="#ao" x="1432" y="1476.4"/></g>
<g id="n_S1"><use href="#r" x="1483" y="1477.8"/><use href="#rol" x="1483" y="1518"/><use href="#r" x="1483" y="1497.9"/></g>
<g id="n_S2"><use href="#r" x="1525" y="1500.7"/><use href="#r" x="1525" y="1535.2"/><use href="#r" x="1525" y="1518"/></g>
<g id="n_S3"><use href="#r" x="1537" y="1523.7"/><use href="#g" x="1537" y="1546.6"/><use href="#r" x="1537" y="1535.2"/></g>
<g id="n_C0"><use href="#pu" x="675" y="1646.3"/><use href="#rm" x="675" y="2207.5"/><use href="#pu" x="675" y="1926.9"/></g>
<g id="n_P0"><use href="#rb" x="676" y="1569.6"/><use href="#rm" x="676" y="1723"/><use href="#pu" x="676" y="1646.3"/></g>
<g id="n_P1"><use href="#r" x="779" y="1634.2"/><use href="#rm" x="779" y="1811.8"/><use href="#rm" x="779" y="1723"/></g>
<g id="n_CB"><use href="#r" x="1096" y="1592.6"/><use href="#rx" x="1096" y="1675.8"/><use href="#rx" x="1096" y="1634.2"/></g>
<g id="n_CB2"><use href="#rx" x="1346" y="1632.7"/><use href="#mx" x="1346" y="1718.9"/><use href="#mx" x="1346" y="1675.8"/></g>
<g id="n_CC"><use href="#r" x="1472" y="1615.5"/><use href="#rx" x="1472" y="1650"/><use href="#pg" x="1472" y="1632.7"/></g>
<g id="n_CO"><use href="#g" x="1496" y="1638.5"/><use href="#r" x="1496" y="1661.4"/><use href="#r" x="1496" y="1650"/></g>
<g id="n_SA"><use href="#se" x="1437" y="1695.9"/><use href="#rab" x="1437" y="1741.8"/><use href="#gy" x="1437" y="1718.9"/></g>
<g id="n_XR"><use href="#se" x="1466" y="1684.4"/><use href="#y" x="1466" y="1707.4"/><use href="#gy" x="1466" y="1695.9"/></g>
<g id="n_LA"><use href="#or" x="1524" y="1730.3"/><use href="#ol" x="1524" y="1753.3"/><use href="#rx" x="1524" y="1741.8"/></g>
<g id="n_S0"><use href="#v" x="832" y="1776.2"/><use href="#m" x="832" y="1847.3"/><use href="#m" x="832" y="1811.8"/></g>
<g id="n_S1b"><use href="#m" x="842" y="1810.7"/><use href="#r" x="842" y="1883.9"/><use href="#m" x="842" y="1847.3"/></g>
<g id="n_K"><use href="#r" x="955" y="1799.2"/><use href="#v" x="955" y="1822.2"/><use href="#r" x="955" y="1810.7"/></g>
<g id="n_S2b"><use href="#r" x="900" y="1856.6"/><use href="#r" x="900" y="1911.1"/><use href="#r" x="900" y="1883.9"/></g>
<g id="n_NL"><use href="#r" x="1000" y="1845.1"/><use href="#r" x="1000" y="1868.1"/><use href="#r" x="1000" y="1856.6"/></g>
<g id="n_SM"><use href="#r" x="1440" y="1891"/><use href="#gm" x="1440" y="1931.2"/><use href="#gm" x="1440" y="1911.1"/></g>
<g id="n_SS"><use href="#r" x="1472" y="1914"/><use href="#rol" x="1472" y="1948.5"/><use href="#gm" x="1472" y="1931.2"/></g>
<g id="n_SO2"><use href="#r" x="1488" y="1937"/><use href="#cy" x="1488" y="1959.9"/><use href="#rx" x="1488" y="1948.5"/></g>
<g id="n_Q"><use href="#rm" x="696" y="2013.4"/><use href="#r" x="696" y="2401.5"/><use href="#r" x="696" y="2207.5"/></g>
<g id="n_Q1"><use href="#vr" x="749" y="1982.9"/><use href="#r" x="749" y="2043.9"/><use href="#m" x="749" y="2013.4"/></g>
<g id="n_AO"><use href="#r" x="1097" y="2005.8"/><use href="#r" x="1097" y="2081.9"/><use href="#r" x="1097" y="2043.9"/></g>
<g id="n_AC"><use href="#r" x="1367" y="2046"/><use href="#r" x="1367" y="2117.8"/><use href="#r" x="1367" y="2081.9"/></g>
<g id="n_AA"><use href="#r" x="1392" y="2028.8"/><use href="#r" x="1392" y="2063.2"/><use href="#r" x="1392" y="2046"/></g>
<g id="n_NA"><use href="#r" x="1465" y="2051.8"/><use href="#rol" x="1465" y="2074.7"/><use href="#r" x="1465" y="2063.2"/></g>
<g id="n_BB"><use href="#r" x="1408" y="2097.7"/><use href="#r" x="1408" y="2137.9"/><use href="#r" x="1408" y="2117.8"/></g>
<g id="n_B2"><use href="#r" x="1442" y="2120.6"/><use href="#r" x="1442" y="2155.1"/><use href="#r" x="1442" y="2137.9"/></g>
<g id="n_LG"><use href="#r" x="1478" y="2143.6"/><use href="#rpu" x="1478" y="2166.6"/><use href="#r" x="1478" y="2155.1"/></g>
<g id="n_Q2"><use href="#r" x="1004" y="2276.4"/><use href="#rx" x="1004" y="2526.6"/><use href="#rx" x="1004" y="2401.5"/></g>
<g id="n_QS"><use href="#r" x="1187" y="2209.6"/><use href="#r" x="1187" y="2343.1"/><use href="#rx" x="1187" y="2276.4"/></g>
<g id="n_SGa"><use href="#r" x="1408" y="2189.5"/><use href="#r" x="1408" y="2229.7"/><use href="#r" x="1408" y="2209.6"/></g>
<g id="n_TMN"><use href="#r" x="1429" y="2212.5"/><use href="#r" x="1429" y="2246.9"/><use href="#r" x="1429" y="2229.7"/></g>
<g id="n_MN"><use href="#r" x="1446" y="2235.4"/><use href="#r" x="1446" y="2258.4"/><use href="#r" x="1446" y="2246.9"/></g>
<g id="n_SGbY"><use href="#r" x="1258" y="2298.6"/><use href="#rol" x="1258" y="2387.6"/><use href="#rol" x="1258" y="2343.1"/></g>
<g id="n_SGb"><use href="#r" x="1406" y="2281.4"/><use href="#r" x="1406" y="2315.8"/><use href="#r" x="1406" y="2298.6"/></g>
<g id="n_ML"><use href="#r" x="1458" y="2304.3"/><use href="#r" x="1458" y="2327.3"/><use href="#r" x="1458" y="2315.8"/></g>
<g id="n_Y"><use href="#rpu" x="1317" y="2361.7"/><use href="#g" x="1317" y="2413.4"/><use href="#ol" x="1317" y="2387.6"/></g>
<g id="n_OG"><use href="#pu" x="1507" y="2350.2"/><use href="#bl" x="1507" y="2373.2"/><use href="#pu" x="1507" y="2361.7"/></g>
<g id="n_MMB"><use href="#g" x="1376" y="2396.2"/><use href="#g" x="1376" y="2430.6"/><use href="#g" x="1376" y="2413.4"/></g>
<g id="n_MB"><use href="#g" x="1496" y="2419.1"/><use href="#g" x="1496" y="2442.1"/><use href="#g" x="1496" y="2430.6"/></g>
<g id="n_QL"><use href="#rgc" x="1025" y="2482.2"/><use href="#rx" x="1025" y="2570.9"/><use href="#rx" x="1025" y="2526.6"/></g>
<g id="n_Leo"><use href="#se" x="1520" y="2465"/><use href="#y" x="1520" y="2499.5"/><use href="#y" x="1520" y="2482.2"/></g>
<g id="n_RC"><use href="#y" x="1536" y="2488"/><use href="#y" x="1536" y="2511"/><use href="#y" x="1536" y="2499.5"/></g>
<g id="n_QC"><use href="#r" x="1067" y="2533.9"/><use href="#rx" x="1067" y="2607.9"/><use href="#rx" x="1067" y="2570.9"/></g>
<g id="n_QC2"><use href="#r" x="1118" y="2556.9"/><use href="#rx" x="1118" y="2658.8"/><use href="#rx" x="1118" y="2607.9"/></g>
<g id="n_CM"><use href="#yx" x="1316" y="2601.4"/><use href="#rol" x="1316" y="2716.2"/><use href="#oc" x="1316" y="2658.8"/></g>
<g id="n_CA"><use href="#y" x="1406" y="2579.8"/><use href="#yx" x="1406" y="2622.9"/><use href="#y" x="1406" y="2601.4"/></g>
<g id="n_GKPJ"><use href="#y" x="1488" y="2602.8"/><use href="#se" x="1488" y="2643"/><use href="#ce" x="1488" y="2622.9"/></g>
<g id="n_KPJ"><use href="#se" x="1497" y="2625.8"/><use href="#ce" x="1497" y="2660.2"/><use href="#ce" x="1497" y="2643"/></g>
<g id="n_PJ"><use href="#ce" x="1513" y="2648.7"/><use href="#or" x="1513" y="2671.7"/><use href="#ce" x="1513" y="2660.2"/></g>
<g id="n_CE"><use href="#r" x="1344" y="2694.6"/><use href="#rol" x="1344" y="2737.7"/><use href="#rol" x="1344" y="2716.2"/></g>
<g id="n_MC"><use href="#g" x="1430" y="2717.6"/><use href="#ol" x="1430" y="2757.8"/><use href="#og" x="1430" y="2737.7"/></g>
<g id="n_M2"><use href="#r" x="1501" y="2740.6"/><use href="#rx" x="1501" y="2775"/><use href="#ol" x="1501" y="2757.8"/></g>
<g id="n_MEm"><use href="#r" x="1530" y="2763.5"/><use href="#g" x="1530" y="2786.5"/><use href="#r" x="1530" y="2775"/></g>
</g>
<g id="axis">
<path d="M127.6 2889H1539M127.6 2889V2901M480.4 2889V2901M833.2 2889V2901M1186.1 2889V2901M1539 2889V2901" fill="none" stroke="#000" stroke-width="1.2"/>
<text class="tk" x="127.6" y="2929">40</text>
<text class="tk" x="480.4" y="2929">30</text>
<text class="tk" x="833.2" y="2929">20</text>
<text class="tk" x="1186.1" y="2929">10</text>
<text class="tk" x="1539" y="2929">0</text>
<text class="ax" x="1021" y="2951">Millions of years ago</text>
</g>
</svg>
